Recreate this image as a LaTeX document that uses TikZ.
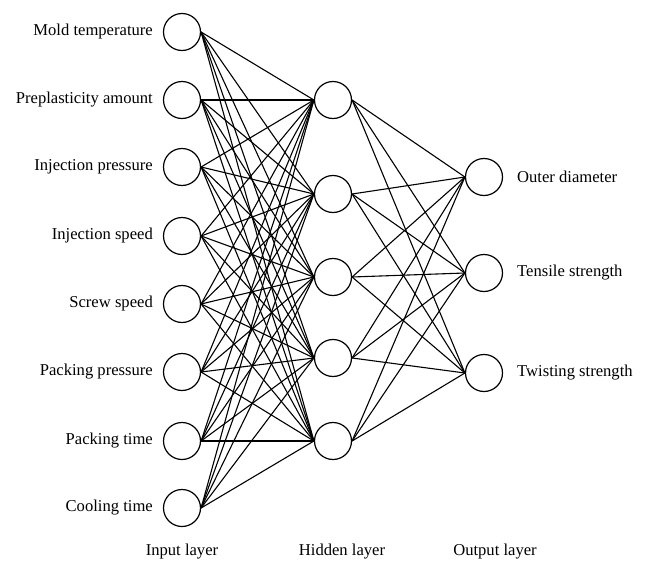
\documentclass[tikz,border=0pt]{standalone}
\usepackage{fontspec}
\setmainfont{Liberation Serif}
\begin{document}
\begin{tikzpicture}[x=1pt,y=-1pt,
  neuron/.style={circle,draw,line width=1.2pt,minimum size=37pt,inner sep=0pt},
  conn/.style={line width=1.1pt},
  lbl/.style={font=\fontsize{16.6}{19}\selectfont,inner sep=0pt}]
\useasboundingbox (0,0) rectangle (646,565);
% input layer
\foreach \i/\y in {1/32,2/100,3/167,4/236,5/304,6/372,7/441,8/508}
  \node[neuron] (i\i) at (182,\y) {};
% hidden layer
\foreach \j/\y in {1/100,2/194,3/277,4/358,5/441}
  \node[neuron] (h\j) at (333,\y) {};
% output layer
\foreach \k/\y in {1/177,2/273,3/373}
  \node[neuron] (o\k) at (484,\y) {};
% connections
\foreach \i in {1,...,8}
  \foreach \j in {1,...,5}
    \draw[conn] (i\i.east) -- (h\j.west);
\foreach \j in {1,...,5}
  \foreach \k in {1,2,3}
    \draw[conn] (h\j.east) -- (o\k.west);
% input labels
\node[lbl,anchor=east] (li1) at (153,32) {Mold temperature};
\node[lbl,anchor=east] (li2) at (153,100) {Preplasticity amount};
\node[lbl,anchor=east] (li3) at (153,167) {Injection pressure};
\node[lbl,anchor=east] (li4) at (153,236) {Injection speed};
\node[lbl,anchor=east] (li5) at (153,304) {Screw speed};
\node[lbl,anchor=east] (li6) at (153,372) {Packing pressure};
\node[lbl,anchor=east] (li7) at (153,441) {Packing time};
\node[lbl,anchor=east] (li8) at (153,508) {Cooling time};
% output labels
\node[lbl,anchor=west] (lo1) at (517,177) {Outer diameter};
\node[lbl,anchor=west] (lo2) at (517,273) {Tensile strength};
\node[lbl,anchor=west] (lo3) at (517,373) {Twisting strength};
% layer labels
\node[lbl] (ll1) at (182,552) {Input layer};
\node[lbl] (ll2) at (342,552) {Hidden layer};
\node[lbl] (ll3) at (495,552) {Output layer};
\end{tikzpicture}
\end{document}
